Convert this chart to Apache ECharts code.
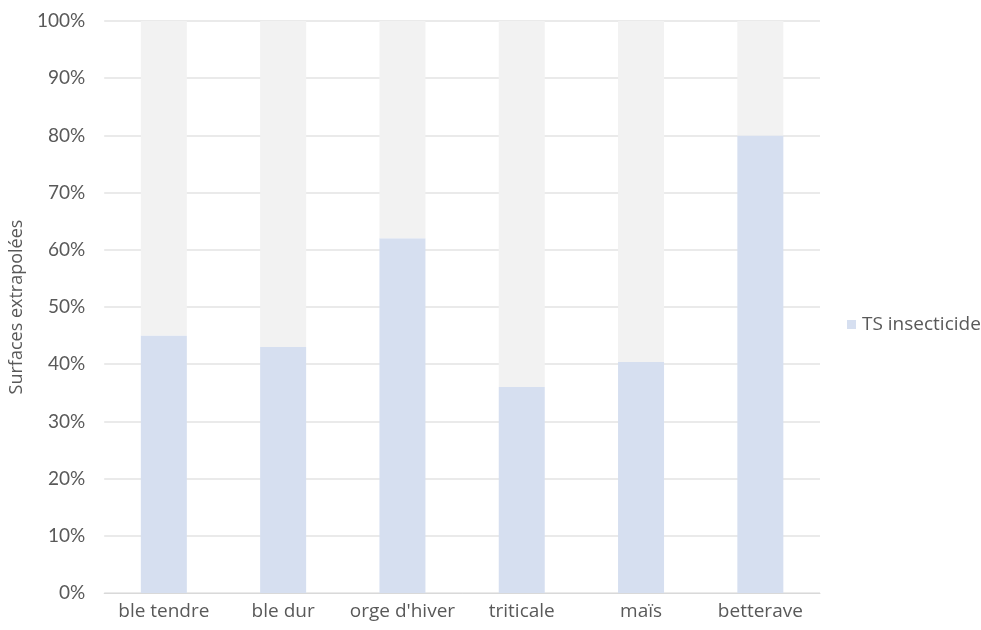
<!DOCTYPE html>
<html>
<head>
<meta charset="utf-8">
<script src="https://cdn.jsdelivr.net/npm/echarts@6/dist/echarts.min.js"></script>
<style>
  html, body { margin: 0; padding: 0; background: #ffffff; }
  #chart { width: 981px; height: 630px; }
</style>
</head>
<body>
<div id="chart"></div>
<script>
// Crops and share of extrapolated area with insecticide seed treatment (%)
const categories = ['ble tendre', 'ble dur', "orge d'hiver", 'triticale', 'maïs', 'betterave'];
const tsInsecticide = [45, 43, 62, 36, 40.4, 80];
// Remaining share up to 100 %
const remainder = tsInsecticide.map(v => +(100 - v).toFixed(1));
const yTicks = [0, 10, 20, 30, 40, 50, 60, 70, 80, 90, 100];

const textColor = '#595959';
const chart = echarts.init(document.getElementById('chart'), null, { renderer: 'canvas' });

chart.setOption({
  backgroundColor: '#ffffff',
  animation: false,
  grid: { left: 102, right: 161, top: 21, bottom: 37, containLabel: false },
  legend: {
    data: ['TS insecticide'],
    orient: 'vertical',
    left: 842,
    top: 310,
    itemWidth: 9,
    itemHeight: 9,
    itemGap: 8,
    icon: 'rect',
    textStyle: { color: textColor, fontSize: 19, fontFamily: 'Open Sans', padding: [0, 0, 0, 1] }
  },
  xAxis: {
    type: 'category',
    data: categories,
    axisLine: { show: true, lineStyle: { color: '#d9d9d9', width: 1 } },
    axisTick: { show: false },
    axisLabel: { color: textColor, fontSize: 19, fontFamily: 'Open Sans', margin: 9, interval: 0 }
  },
  yAxis: {
    type: 'value',
    min: yTicks[0],
    max: yTicks[yTicks.length - 1],
    interval: 10,
    name: 'Surfaces extrapolées',
    nameLocation: 'middle',
    nameRotate: 90,
    nameGap: 76,
    nameTextStyle: { color: textColor, fontSize: 18, fontFamily: 'Open Sans' },
    axisLine: { show: false },
    axisTick: { show: false },
    axisLabel: {
      color: textColor,
      fontSize: 19,
      fontFamily: 'Lato',
      margin: 19,
      formatter: v => v + '%'
    },
    splitLine: { show: true, lineStyle: { color: '#e3e3e3', width: 1.5 } }
  },
  series: [
    {
      name: 'TS insecticide',
      type: 'bar',
      stack: 'total',
      data: tsInsecticide,
      barWidth: 46,
      itemStyle: { color: '#d6dff0' }
    },
    {
      name: 'Autres',
      type: 'bar',
      stack: 'total',
      data: remainder,
      barWidth: 46,
      itemStyle: { color: '#f2f2f2' }
    }
  ]
});
</script>
</body>
</html>
